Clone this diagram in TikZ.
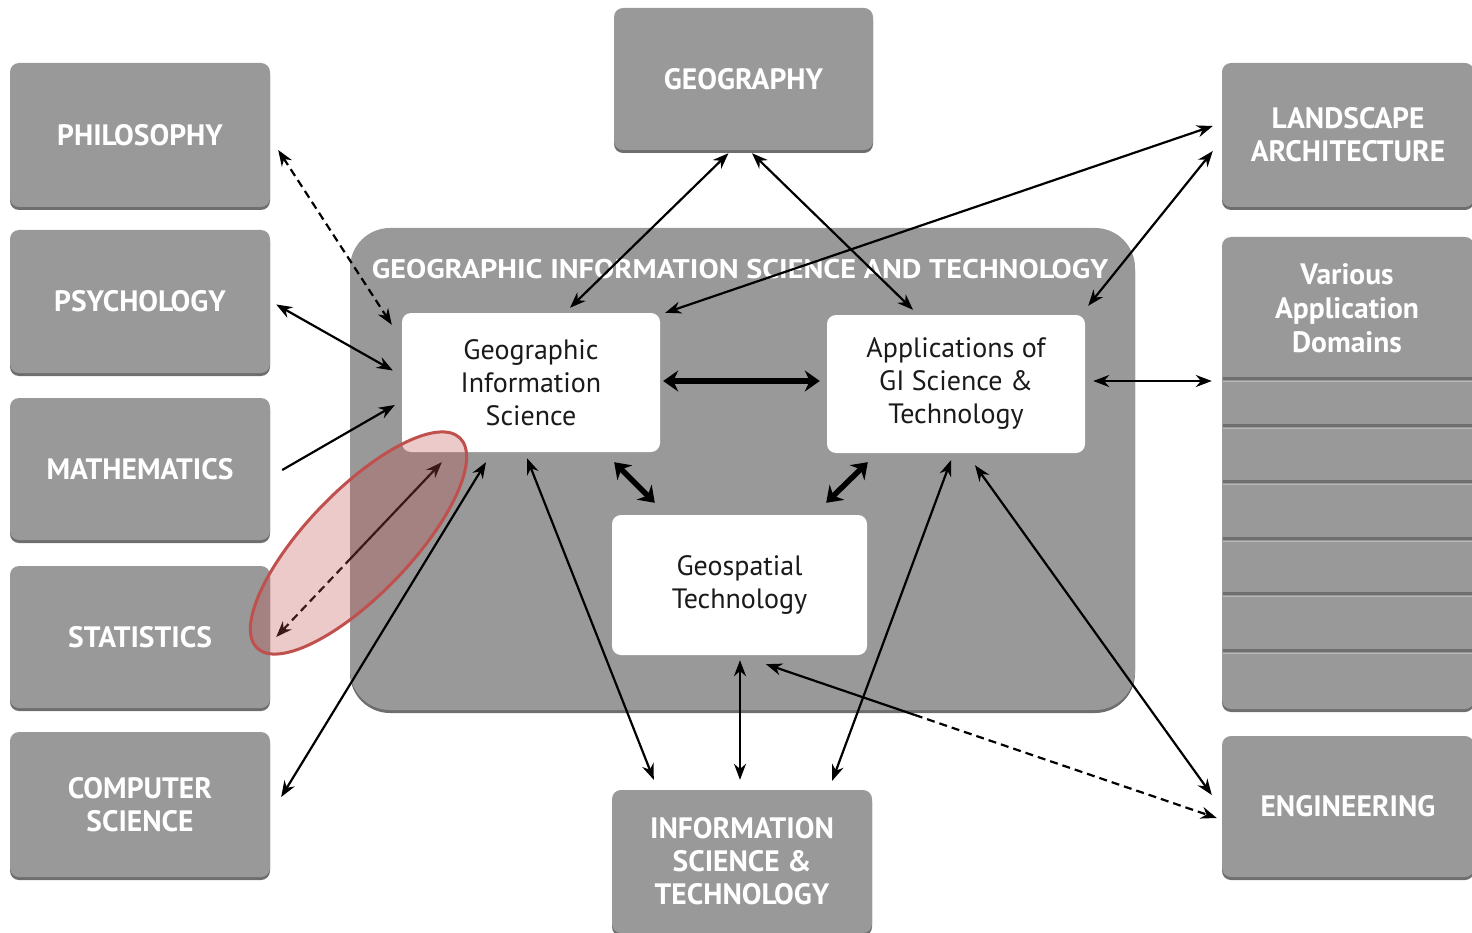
\documentclass[tikz,border=0pt]{standalone}
\usepackage{fontspec}
\setmainfont{PT Sans}
\usetikzlibrary{arrows.meta,calc,shadows,shapes.geometric}
\definecolor{boxgray}{HTML}{999999}
\definecolor{shadegray}{HTML}{6E6E6E}
\definecolor{txtdark}{HTML}{1A1A1A}
\definecolor{hlred}{HTML}{C0504D}
\tikzset{
  outerbox/.style={rectangle, rounded corners=9pt, fill=boxgray, inner sep=0pt,
    text=white, font=\fontsize{29.5}{33}\selectfont\bfseries, align=center,
    general shadow={fill=shadegray, shadow yshift=-3pt}},
  innerbox/.style={rectangle, rounded corners=9pt, fill=white, inner sep=0pt,
    text=txtdark, font=\fontsize{28}{33}\selectfont, align=center},
  link/.style={line width=2.2pt, {Stealth[length=16pt,width=12pt]}-{Stealth[length=16pt,width=12pt]}},
  onelink/.style={line width=2.2pt, -{Stealth[length=16pt,width=12pt]}},
  biglink/.style={line width=5.5pt, {Stealth[length=15pt,width=21pt]}-{Stealth[length=15pt,width=21pt]}},
  dashlink/.style={link, dash pattern=on 8pt off 5pt},
}
\begin{document}
\begin{tikzpicture}[x=1pt,y=-1pt]
\useasboundingbox (0,0) rectangle (1472,933);
% container
\node[rectangle, rounded corners=40pt, fill=boxgray, minimum width=785pt, minimum height=482pt,
  general shadow={fill=shadegray, shadow yshift=-3pt}] (gist) at (742.5,469) {};
\node[text=white, font=\fontsize{27}{30}\selectfont\bfseries, anchor=center] (gisttitle) at (740,269)
  {\scalebox{1.12}[1]{GEOGRAPHIC INFORMATION SCIENCE AND TECHNOLOGY}};
% outer boxes
\node[outerbox, minimum width=260pt, minimum height=144pt] (phil) at (140,135) {PHILOSOPHY};
\node[outerbox, minimum width=260pt, minimum height=143pt] (psych) at (140,301.5) {PSYCHOLOGY};
\node[outerbox, minimum width=260pt, minimum height=142pt] (math) at (140,469) {MATHEMATICS};
\node[outerbox, minimum width=260pt, minimum height=142pt] (stat) at (140,637) {STATISTICS};
\node[outerbox, minimum width=260pt, minimum height=145pt] (comp) at (140,804.5) {COMPUTER\\SCIENCE};
\node[outerbox, minimum width=259pt, minimum height=142pt] (geog) at (743.5,79) {GEOGRAPHY};
\node[outerbox, minimum width=252pt, minimum height=144pt] (land) at (1348,135) {LANDSCAPE\\ARCHITECTURE};
\node[outerbox, minimum width=252pt, minimum height=472pt] (various) at (1348,473) {};
\node[text=white, font=\fontsize{29.5}{34}\selectfont\bfseries, align=center] (varlabel) at (1347,308)
  {Various\\Application\\Domains};
\foreach \yy in {142,189,245,302,357,414}{
  \draw[shadegray, line width=3pt] ($(various.north west)+(1,\yy)$) -- ($(various.north east)+(-1,\yy)$);
  \draw[boxgray!70!white, line width=1pt] ($(various.north west)+(1,\yy+2.5)$) -- ($(various.north east)+(-1,\yy+2.5)$);
}
\node[outerbox, minimum width=252pt, minimum height=141pt] (eng) at (1348,806.5) {ENGINEERING};
\node[outerbox, minimum width=260pt, minimum height=143pt] (info) at (742,861.5) {INFORMATION\\SCIENCE \&\\TECHNOLOGY};
% inner boxes
\node[innerbox, minimum width=258pt, minimum height=139pt] (gis) at (531,382.5) {Geographic\\Information\\Science};
\node[innerbox, minimum width=258pt, minimum height=138pt] (app) at (956,384) {Applications of\\GI Science \&\\Technology};
\node[innerbox, minimum width=255pt, minimum height=140pt] (geo) at (739.5,585) {Geospatial\\Technology};
% connectors
\draw[dashlink] ($(phil.east)+(8,15)$) -- ($(gis.north west)+(-10,12)$);
\draw[link] ($(psych.east)+(6,3)$) -- ($(gis.west)+(-9,-12)$);
\draw[onelink] ($(math.east)+(12,1)$) -- ($(gis.west)+(-7,22.5)$);
\coordinate (statmid) at ($($(stat.east)+(6,0)$)!0.45!($(gis.south west)+(40,10)$)$);
\draw[line width=2.2pt, dash pattern=on 8pt off 5pt, {Stealth[length=16pt,width=12pt]}-] ($(stat.east)+(6,0)$) -- (statmid);
\draw[line width=2.2pt, -{Stealth[length=16pt,width=12pt]}] (statmid) -- ($(gis.south west)+(40,10)$);
\draw[link] ($(comp.east)+(11,-7.5)$) -- ($(gis.south)+(-45,10)$);
\draw[link] ($(geog.south)+(-15,3)$) -- ($(gis.north)+(39,-5)$);
\draw[link] ($(geog.south)+(8.5,3)$) -- ($(app.north)+(-43,-5)$);
\draw[link] ($(land.west)+(-9,-9)$) -- ($(gis.north east)+(5,0)$);
\draw[link] ($(land.west)+(-9,16)$) -- ($(app.north east)+(3,-9)$);
\draw[biglink] ($(gis.east)+(3,-1.5)$) -- ($(app.west)+(-7,-3)$);
\draw[biglink] ($(gis.south east)+(-46,10)$) -- ($(geo.north west)+(43,-12)$);
\draw[biglink] ($(app.south west)+(41,9)$) -- ($(geo.north east)+(-41,-12)$);
\draw[link] ($(app.east)+(8,-3)$) -- ($(various.west)+(-10,-92)$);
\draw[link] ($(gis.south)+(-4,6)$) -- ($(info.north west)+(42,-10)$);
\draw[link] ($(geo.south)+(0.5,5)$) -- ($(info.north)+(-2,-10)$);
\draw[link] ($(app.south)+(-5,7)$) -- ($(info.north east)+(-40,-9)$);
\coordinate (engmid) at ($($(geo.south)+(26.5,9)$)!0.33!($(eng.west)+(-5,11.5)$)$);
\draw[line width=2.2pt, {Stealth[length=16pt,width=12pt]}-] ($(geo.south)+(26.5,9)$) -- (engmid);
\draw[line width=2.2pt, dash pattern=on 8pt off 5pt, -{Stealth[length=16pt,width=12pt]}] (engmid) -- ($(eng.west)+(-5,11.5)$);
\draw[link] ($(app.south)+(19,12)$) -- ($(eng.west)+(-10,-11.5)$);
% highlight
\node[ellipse, draw=hlred, line width=3pt, fill=hlred, fill opacity=0.3, draw opacity=1,
  minimum width=292pt, minimum height=104pt, rotate=46] (hl) at (358.5,543) {};
\end{tikzpicture}
\end{document}
